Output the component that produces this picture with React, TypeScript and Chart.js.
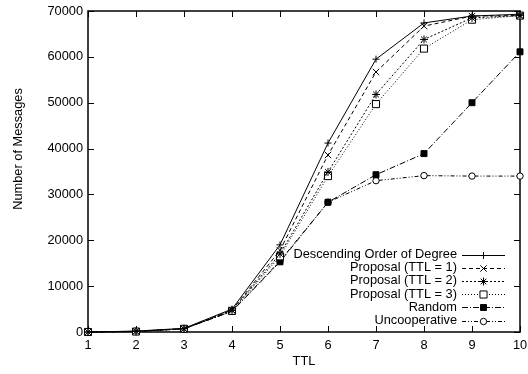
import React, { useEffect, useRef } from 'react';
import { Chart, registerables } from 'chart.js';
import { drawPoint } from 'chart.js/helpers';

Chart.register(...registerables);

const ttl = [1, 2, 3, 4, 5, 6, 7, 8, 9, 10];
const descending = [0, 200, 800, 5000, 19000, 41200, 59500, 67400, 68900, 69300];
const proposal1 = [0, 150, 700, 4800, 17800, 38600, 56700, 66700, 68900, 69000];
const proposal2 = [0, 150, 700, 4700, 17000, 34900, 51800, 63800, 68500, 69000];
const proposal3 = [0, 100, 700, 4600, 16500, 34000, 49700, 61800, 68100, 69000];
const randomSel = [0, 100, 700, 4500, 15300, 28300, 34300, 38900, 50000, 61100];
const uncooperative = [0, 100, 700, 4500, 15500, 28300, 33000, 34100, 34000, 34000];

const seriesNames = [
  'Descending Order of Degree',
  'Proposal (TTL = 1)',
  'Proposal (TTL = 2)',
  'Proposal (TTL = 3)',
  'Random',
  'Uncooperative',
];
const xTitle = 'TTL';
const yTitle = 'Number of Messages';

const FONT = 'Liberation Sans, Arial, Helvetica, sans-serif';
const FS = 12.8;

const styles = [
  { dash: [], pointStyle: 'cross', radius: 3.5, bg: '#000' },
  { dash: [4, 3], pointStyle: 'crossRot', radius: 4.5, bg: '#000' },
  { dash: [2, 2], pointStyle: 'star', radius: 4, bg: '#000' },
  { dash: [1, 2], pointStyle: 'rect', radius: 5, bg: '#fff' },
  { dash: [6, 2, 1, 2], pointStyle: 'rect', radius: 4.2, bg: '#000' },
  { dash: [4, 2, 1, 2, 1, 2], pointStyle: 'circle', radius: 3.2, bg: '#fff' },
];

const seriesValues = [descending, proposal1, proposal2, proposal3, randomSel, uncooperative];

const decorPlugin = {
  id: 'decor',
  beforeDatasetsDraw(chart: any) {
    const { ctx, chartArea } = chart;
    const { left, right, top, bottom } = chartArea;
    ctx.save();
    ctx.strokeStyle = '#000';
    ctx.lineWidth = 1;
    const tl = 6;
    const xs = chart.scales.x;
    const ys = chart.scales.y;
    ctx.beginPath();
    xs.ticks.forEach((t: any) => {
      const px = Math.round(xs.getPixelForValue(t.value)) + 0.5;
      ctx.moveTo(px, bottom);
      ctx.lineTo(px, bottom - tl);
      ctx.moveTo(px, top);
      ctx.lineTo(px, top + tl);
    });
    ys.ticks.forEach((t: any) => {
      const py = Math.round(ys.getPixelForValue(t.value)) + 0.5;
      ctx.moveTo(left, py);
      ctx.lineTo(left + tl, py);
      ctx.moveTo(right, py);
      ctx.lineTo(right - tl, py);
    });
    ctx.stroke();
    ctx.lineWidth = 1.5;
    ctx.strokeRect(left, top, right - left, bottom - top);
    ctx.fillStyle = '#000';
    ctx.font = `${FS}px ${FONT}`;
    ctx.textAlign = 'center';
    ctx.textBaseline = 'middle';
    ctx.translate(18, 149);
    ctx.rotate(-Math.PI / 2);
    ctx.fillText(yTitle, 0, 0);
    ctx.restore();
  },
  afterDatasetsDraw(chart: any) {
    const { ctx, chartArea } = chart;
    const { right, bottom } = chartArea;
    ctx.save();
    ctx.font = `${FS}px ${FONT}`;
    ctx.textAlign = 'right';
    ctx.textBaseline = 'middle';
    const textRight = right - 63;
    const x0 = right - 58;
    const x1 = right - 15;
    const cx = (x0 + x1) / 2;
    chart.data.datasets.forEach((ds: any, i: number) => {
      const y = bottom - 77.5 + i * 13.2;
      ctx.fillStyle = '#000';
      ctx.fillText(ds.label, textRight, y);
      ctx.strokeStyle = '#000';
      ctx.lineWidth = 1;
      ctx.setLineDash(ds.borderDash || []);
      ctx.beginPath();
      ctx.moveTo(x0, Math.round(y) + 0.5);
      ctx.lineTo(x1, Math.round(y) + 0.5);
      ctx.stroke();
      ctx.setLineDash([]);
      ctx.fillStyle = ds.pointBackgroundColor;
      drawPoint(ctx, { pointStyle: ds.pointStyle, radius: ds.pointRadius, rotation: 0, borderWidth: 1 } as any, cx, Math.round(y) + 0.5);
    });
    ctx.restore();
  },
};

export default function App() {
  const ref = useRef<HTMLCanvasElement>(null);
  useEffect(() => {
    const canvas = ref.current!;
    const datasets = seriesValues.map((vals, i) => ({
      label: seriesNames[i],
      data: ttl.map((x, j) => ({ x, y: vals[j] })),
      borderColor: '#000',
      borderWidth: 1,
      borderDash: styles[i].dash,
      pointStyle: styles[i].pointStyle,
      pointRadius: styles[i].radius,
      pointBorderColor: '#000',
      pointBackgroundColor: styles[i].bg,
      pointBorderWidth: 1,
      tension: 0,
      fill: false,
      clip: false as any,
    }));
    const chart = new Chart(canvas, {
      type: 'line',
      data: { datasets: datasets as any },
      options: {
        animation: false,
        responsive: false,
        maintainAspectRatio: false,
        layout: { padding: { left: 0, right: 8, top: 11, bottom: 0 } },
        plugins: { legend: { display: false }, tooltip: { enabled: false } },
        scales: {
          x: {
            type: 'linear',
            min: 1,
            max: 10,
            ticks: { stepSize: 1, color: '#000', font: { family: FONT, size: FS }, padding: 6, maxRotation: 0, callback: (v: any) => String(v) },
            grid: { display: false, drawTicks: false },
            border: { display: false },
            title: { display: true, text: xTitle, color: '#000', font: { family: FONT, size: FS }, padding: { top: 0, bottom: 5 } },
            afterFit(s: any) {
              s.height = 42;
              s.paddingLeft = 0;
              s.paddingRight = 0;
            },
          },
          y: {
            type: 'linear',
            min: 0,
            max: 70000,
            ticks: { stepSize: 10000, color: '#000', font: { family: FONT, size: FS }, padding: 5, callback: (v: any) => String(v) },
            grid: { display: false, drawTicks: false },
            border: { display: false },
            afterFit(s: any) {
              s.width = 88;
              s.paddingTop = 0;
              s.paddingBottom = 0;
            },
          },
        },
      },
      plugins: [decorPlugin],
    });
    return () => chart.destroy();
  }, []);
  return (
    <div style={{ position: 'fixed', left: 0, top: 0, width: 528, height: 374, background: '#fff' }}>
      <canvas ref={ref} width={528} height={374} style={{ display: 'block' }} />
    </div>
  );
}
